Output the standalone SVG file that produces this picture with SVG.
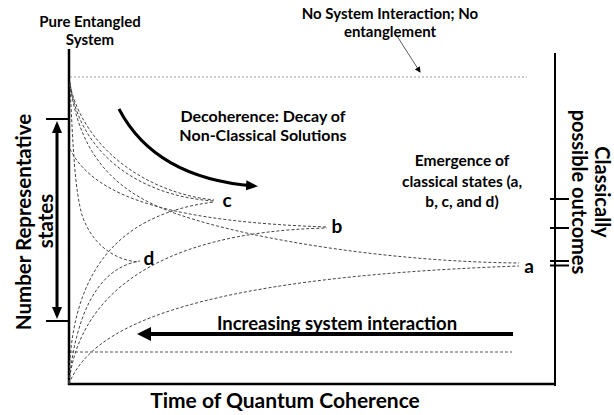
<svg xmlns="http://www.w3.org/2000/svg" width="614" height="415" viewBox="0 0 614 415">
<style>
text{font-family:Lato,"Liberation Sans",sans-serif;font-weight:bold;fill:#000}
.top{font-size:15px}
.mid{font-size:16px}
.em{font-size:15.5px}
.inc{font-size:18.5px}
.state{font-size:19px}
.title{font-size:20.5px}
.axis{stroke:#000;stroke-width:2.5;fill:none}
.thin{stroke:#000;stroke-width:2;fill:none}
.curve{stroke:#444;stroke-width:1;stroke-dasharray:3 2;fill:none}
.dotted{stroke:#999;stroke-width:1;stroke-dasharray:2 2;fill:none}
.dashed{stroke:#555;stroke-width:1;stroke-dasharray:3 2;fill:none}
</style>
<defs>
<marker id="mid" viewBox="0 0 12 10" refX="8" refY="5" markerWidth="12" markerHeight="10" markerUnits="userSpaceOnUse" orient="auto-start-reverse"><path d="M0,0 L12,5 L0,10 z" fill="#000"/></marker>
<marker id="big" viewBox="0 0 14 14" refX="10" refY="7" markerWidth="14" markerHeight="14" markerUnits="userSpaceOnUse" orient="auto"><path d="M0,0 L14,7 L0,14 z" fill="#000"/></marker>
<marker id="small" viewBox="0 0 6 6" refX="5" refY="3" markerWidth="6" markerHeight="6" markerUnits="userSpaceOnUse" orient="auto"><path d="M0,0 L6,3 L0,6 z" fill="#000"/></marker>
</defs>
<rect width="614" height="415" fill="#fff"/>

<g id="axes">
<line class="axis" x1="69" y1="49" x2="69" y2="385"/>
<line class="axis" x1="68" y1="384" x2="556" y2="384"/>
<line class="thin" x1="555" y1="53" x2="555" y2="386"/>
<line class="thin" x1="550" y1="199" x2="569" y2="199"/>
<line class="thin" x1="550" y1="228" x2="569" y2="228"/>
<line class="thin" x1="550" y1="261" x2="569" y2="261"/>
<line class="thin" x1="550" y1="265.5" x2="569" y2="265.5"/>
<line class="dotted" x1="70" y1="77" x2="527" y2="77"/>
<line class="dashed" x1="70" y1="352" x2="512" y2="352"/>
</g>

<g id="range-marker">
<line class="thin" x1="46" y1="119" x2="69" y2="119"/>
<line class="thin" x1="46" y1="321" x2="69" y2="321"/>
</g>

<g id="connectors">
<line x1="57" y1="125" x2="57" y2="315" stroke="#000" stroke-width="3" marker-start="url(#mid)" marker-end="url(#mid)"/>
<path d="M119,109 Q155,178 254,186" stroke="#000" stroke-width="3" fill="none" marker-end="url(#mid)"/>
<line x1="513" y1="334" x2="141" y2="334" stroke="#000" stroke-width="4" marker-end="url(#big)"/>
<line x1="397" y1="36" x2="420" y2="72" stroke="#333" stroke-width="0.8" marker-end="url(#small)"/>
<!-- decaying curves -->
<path class="curve" d="M70,82 C78,152 138,196 214,201"/>
<path class="curve" d="M70,85 C84,148 146,193 214,200"/>
<path class="curve" d="M70,84 C80,160 120,195 180,215 C260,242 400,262 519,263"/>
<path class="curve" d="M70,149 C95,200 180,222 327,227"/>
<path class="curve" d="M70,84 C73,150 75,190 82,215 C92,245 115,260 138,262"/>
<!-- rising curves -->
<path class="curve" d="M69,383 C70,280 110,215 214,202"/>
<path class="curve" d="M69,383 C75,320 95,268 140,261"/>
<path class="curve" d="M69,383 C78,300 150,232 327,228"/>
<path class="curve" d="M69,384 C90,330 180,278 519,266"/>
</g>

<g id="label-pure">
<text class="top" x="90" y="27" text-anchor="middle">Pure Entangled</text>
<text class="top" x="90" y="45" text-anchor="middle">System</text>
</g>
<g id="label-nointeraction">
<text class="top" x="390" y="19" text-anchor="middle">No System Interaction; No</text>
<text class="top" x="390" y="37" text-anchor="middle">entanglement</text>
</g>
<g id="label-decoherence">
<text class="mid" x="263" y="122" text-anchor="middle">Decoherence: Decay of</text>
<text class="mid" x="263" y="141" text-anchor="middle">Non-Classical Solutions</text>
</g>
<g id="label-emergence">
<text class="em" x="462" y="166" text-anchor="middle">Emergence of</text>
<text class="em" x="462" y="187" text-anchor="middle">classical states (a,</text>
<text class="em" x="462" y="207" text-anchor="middle">b, c, and d)</text>
</g>
<g id="label-increasing">
<text class="inc" x="337" y="330" text-anchor="middle">Increasing system interaction</text>
</g>
<g id="state-labels">
<text class="state" x="227" y="207" text-anchor="middle">c</text>
<text class="state" x="337" y="233" text-anchor="middle">b</text>
<text class="state" x="149" y="265" text-anchor="middle">d</text>
<text class="state" x="529" y="273" text-anchor="middle">a</text>
</g>
<g id="y-title">
<text class="title" transform="translate(31,222) rotate(-90)" text-anchor="middle">Number Representative</text>
<text class="title" transform="translate(53,221) rotate(-90)" text-anchor="middle">states</text>
</g>
<g id="x-title">
<text class="title" x="285" y="408" text-anchor="middle" style="font-size:21px">Time of Quantum Coherence</text>
</g>
<g id="right-title">
<text class="title" transform="translate(595,192) rotate(90)" text-anchor="middle" style="font-size:20px">Classically</text>
<text class="title" transform="translate(572,192) rotate(90)" text-anchor="middle" style="font-size:20px">possible outcomes</text>
</g>
</svg>
